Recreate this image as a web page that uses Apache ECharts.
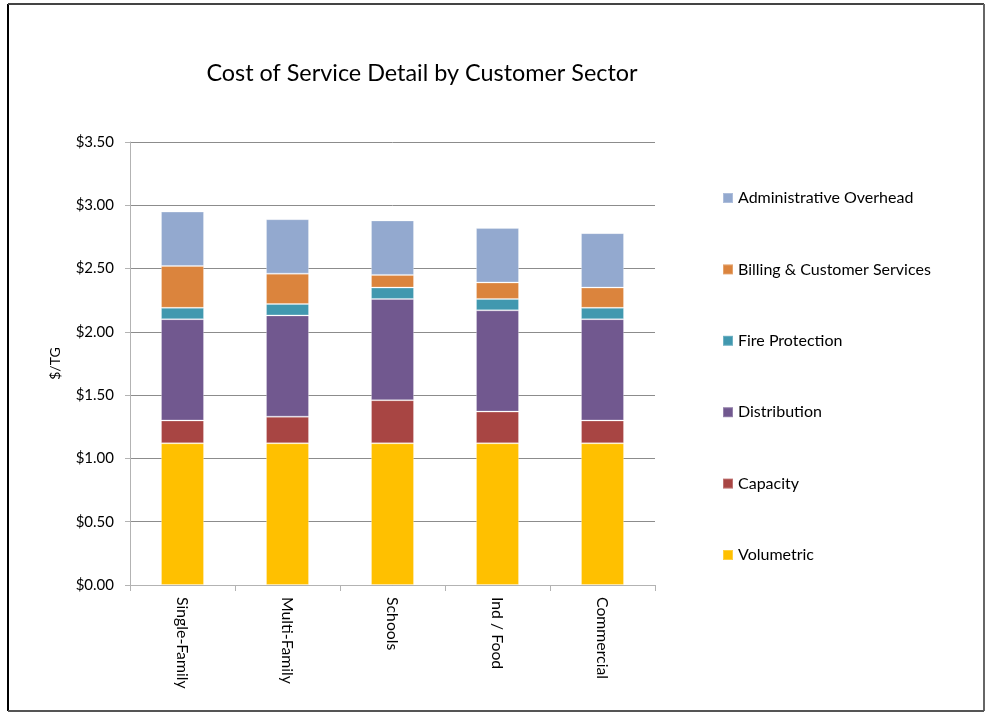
<!DOCTYPE html>
<html>
<head>
<meta charset="utf-8">
<script src="https://cdn.jsdelivr.net/npm/echarts@6/dist/echarts.min.js"></script>
<style>
html,body{margin:0;padding:0;background:#fff;}
#chart{width:985px;height:713px;}
</style>
</head>
<body>
<div id="chart"></div>
<script>
const categories = ['Single-Family', 'Multi-Family', 'Schools', 'Ind / Food', 'Commercial'];
const volumetric = [1.12, 1.12, 1.12, 1.12, 1.12];
const capacity = [0.18, 0.21, 0.34, 0.25, 0.18];
const distribution = [0.80, 0.80, 0.80, 0.80, 0.80];
const fireProtection = [0.09, 0.09, 0.09, 0.09, 0.09];
const billing = [0.33, 0.24, 0.10, 0.13, 0.16];
const adminOverhead = [0.43, 0.43, 0.43, 0.43, 0.43];
const yTicks = [0, 0.5, 1.0, 1.5, 2.0, 2.5, 3.0, 3.5];

const FONT = 'Lato, "Open Sans", sans-serif';
const seriesDefs = [
  {name: 'Volumetric', data: volumetric, color: '#FFC000'},
  {name: 'Capacity', data: capacity, color: '#A84543'},
  {name: 'Distribution', data: distribution, color: '#71588F'},
  {name: 'Fire Protection', data: fireProtection, color: '#4198AF'},
  {name: 'Billing & Customer Services', data: billing, color: '#DB843D'},
  {name: 'Administrative Overhead', data: adminOverhead, color: '#93A9CF'}
];

const chart = echarts.init(document.getElementById('chart'));
chart.setOption({
  animation: false,
  backgroundColor: '#fff',
  title: {
    text: 'Cost of Service Detail by Customer Sector',
    left: 417, top: 57, textAlign: 'center',
    textStyle: {fontFamily: FONT, fontSize: 23.4, fontWeight: 'normal', color: '#000'}
  },
  legend: {
    orient: 'vertical', left: 717, top: 185,
    itemWidth: 10, itemHeight: 10, itemGap: 55.4,
    data: seriesDefs.map(s => s.name).reverse(),
    icon: 'rect',
    textStyle: {fontFamily: FONT, fontSize: 16, color: '#000'}
  },
  grid: {left: 130, right: 330, top: 142, bottom: 128},
  xAxis: {
    type: 'category', data: categories,
    axisLine: {lineStyle: {color: '#b3b3b3'}},
    axisTick: {show: true, length: 6, lineStyle: {color: '#b3b3b3'}},
    axisLabel: {rotate: -90, margin: 12, fontFamily: FONT, fontSize: 15.8, color: '#000'}
  },
  yAxis: {
    type: 'value', min: 0, max: 3.5, interval: 0.5,
    name: '$/TG', nameLocation: 'middle', nameGap: 68, nameRotate: 90,
    nameTextStyle: {fontFamily: FONT, fontSize: 14, color: '#000'},
    axisLine: {show: true, lineStyle: {color: '#b3b3b3'}},
    axisTick: {show: true, length: 5, lineStyle: {color: '#b3b3b3'}},
    splitLine: {lineStyle: {color: '#8c8c8c'}},
    axisLabel: {margin: 16, fontFamily: FONT, fontSize: 15, color: '#000',
      formatter: v => '$' + v.toFixed(2)}
  },
  series: seriesDefs.map(s => ({
    name: s.name, type: 'bar', stack: 'total', data: s.data, barWidth: 43,
    itemStyle: {color: s.color, borderColor: 'rgba(255,255,255,0.25)', borderWidth: 1}
  })),
  graphic: [
    {type: 'line', shape: {x1: 8, y1: 4, x2: 8, y2: 711}, style: {stroke: '#000', lineWidth: 2}},
    {type: 'line', shape: {x1: 8, y1: 4, x2: 984, y2: 4}, style: {stroke: '#444', lineWidth: 2}},
    {type: 'line', shape: {x1: 984, y1: 4, x2: 984, y2: 711}, style: {stroke: '#666', lineWidth: 2}},
    {type: 'line', shape: {x1: 8, y1: 711, x2: 984, y2: 711}, style: {stroke: '#555', lineWidth: 2}}
  ]
});
</script>
</body>
</html>
